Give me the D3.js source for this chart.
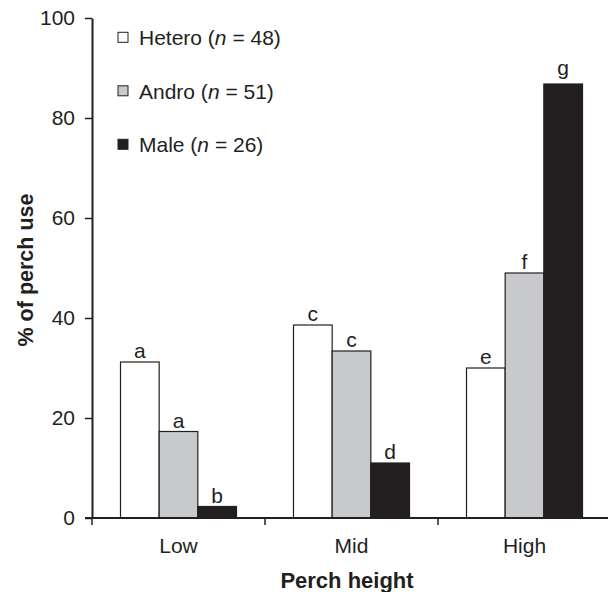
<!DOCTYPE html>
<html>
<head>
<meta charset="utf-8">
<script src="https://cdn.jsdelivr.net/npm/d3@7"></script>
<style>
  body { margin: 0; background: #fff; }
  text { font-family: "Liberation Sans", Arial, sans-serif; fill: #231f20; }
</style>
</head>
<body>
<div id="chart"></div>
<script>
// data
var heights = ["Low", "Mid", "High"];
var groups = ["Hetero", "Andro", "Male"];
var groupN = [48, 51, 26];
var hetero = [31.2, 38.6, 30.0];
var andro = [17.3, 33.4, 49.0];
var male = [2.3, 11.0, 86.8];
var letters = {
    Hetero: ["a", "c", "e"],
    Andro: ["a", "c", "f"],
    Male: ["b", "d", "g"]
};
var yTicks = [0, 20, 40, 60, 80, 100];

var fills = { Hetero: "#ffffff", Andro: "#c8c9cb", Male: "#231f20" };
var ink = "#231f20";

var width = 608, height = 592;
var margin = { top: 18, left: 92, bottom: 74 };
var plotH = height - margin.top - margin.bottom;

var svg = d3.select("#chart").append("svg")
    .attr("width", width)
    .attr("height", height);

// scales
var x0 = d3.scaleBand()
    .domain(heights)
    .range([margin.left, margin.left + 3 * 173])
    .padding(0);

var x1 = d3.scaleBand()
    .domain(groups)
    .range([0, x0.bandwidth()])
    .paddingInner(0)
    .paddingOuter(0.737);

var y = d3.scaleLinear()
    .domain([0, 100])
    .range([margin.top + plotH, margin.top]);

var rows = [];
heights.forEach(function (h, i) {
    rows.push({ h: h, g: "Hetero", v: hetero[i], l: letters.Hetero[i] });
    rows.push({ h: h, g: "Andro", v: andro[i], l: letters.Andro[i] });
    rows.push({ h: h, g: "Male", v: male[i], l: letters.Male[i] });
});

// bars
svg.selectAll("rect.bar")
    .data(rows)
    .enter()
    .append("rect")
    .attr("class", "bar")
    .attr("x", function (d) { return x0(d.h) + x1(d.g); })
    .attr("y", function (d) { return y(d.v); })
    .attr("width", x1.bandwidth())
    .attr("height", function (d) { return y(0) - y(d.v); })
    .attr("fill", function (d) { return fills[d.g]; })
    .attr("stroke", ink)
    .attr("stroke-width", 1.2);

// significance letters (descender letters sit a little higher)
svg.selectAll("text.letter")
    .data(rows)
    .enter()
    .append("text")
    .attr("class", "letter")
    .attr("x", function (d) { return x0(d.h) + x1(d.g) + x1.bandwidth() / 2; })
    .attr("y", function (d) { return y(d.v) - (d.l === "g" ? 9 : 4); })
    .attr("text-anchor", "middle")
    .style("font-size", "21px")
    .text(function (d) { return d.l; });

// y axis
var yAxis = svg.append("g")
    .attr("transform", "translate(" + margin.left + ",0)")
    .call(d3.axisLeft(y).tickValues(yTicks).tickSize(7).tickSizeOuter(0).tickPadding(10));
yAxis.select(".domain").attr("stroke", ink).attr("stroke-width", 2);
yAxis.selectAll(".tick line").attr("stroke", ink).attr("stroke-width", 1.5);
yAxis.selectAll(".tick text")
    .style("font-size", "21px")
    .style("font-family", "'Liberation Sans', Arial, sans-serif")
    .attr("fill", ink);

// x axis: labels at band centres, ticks at band edges
var xAxis = svg.append("g")
    .attr("transform", "translate(0," + y(0) + ")")
    .call(d3.axisBottom(x0).tickSize(0).tickSizeOuter(0).tickPadding(20));
xAxis.select(".domain").remove();
xAxis.selectAll(".tick text")
    .style("font-size", "21px")
    .style("font-family", "'Liberation Sans', Arial, sans-serif")
    .attr("fill", ink);

svg.append("line")
    .attr("x1", margin.left - 7).attr("x2", width)
    .attr("y1", y(0)).attr("y2", y(0))
    .attr("stroke", ink).attr("stroke-width", 2);

svg.selectAll("line.xtick")
    .data(heights)
    .enter()
    .append("line")
    .attr("class", "xtick")
    .attr("x1", function (d) { return x0(d); })
    .attr("x2", function (d) { return x0(d); })
    .attr("y1", y(0))
    .attr("y2", y(0) + 7)
    .attr("stroke", ink)
    .attr("stroke-width", 1.5);

// axis titles
svg.append("text")
    .attr("x", 347)
    .attr("y", 588)
    .attr("text-anchor", "middle")
    .style("font-size", "22px")
    .style("font-weight", "bold")
    .text("Perch height");

svg.append("text")
    .attr("transform", "rotate(-90)")
    .attr("x", -270)
    .attr("y", 33)
    .attr("text-anchor", "middle")
    .style("font-size", "21.5px")
    .style("font-weight", "bold")
    .text("% of perch use");

// legend
var legend = svg.selectAll("g.legend")
    .data(groups)
    .enter()
    .append("g")
    .attr("class", "legend")
    .attr("transform", function (d, i) { return "translate(118," + (32.3 + i * 53.5) + ")"; });

legend.append("rect")
    .attr("width", 10)
    .attr("height", 10)
    .attr("fill", function (d) { return fills[d]; })
    .attr("stroke", ink)
    .attr("stroke-width", 1);

var lt = legend.append("text")
    .attr("x", 21)
    .attr("y", 13)
    .style("font-size", "21px");
lt.append("tspan").text(function (d) { return d + " ("; });
lt.append("tspan").style("font-style", "italic").text("n");
lt.append("tspan").text(function (d, i) { return " = " + groupN[i] + ")"; });
</script>
</body>
</html>
